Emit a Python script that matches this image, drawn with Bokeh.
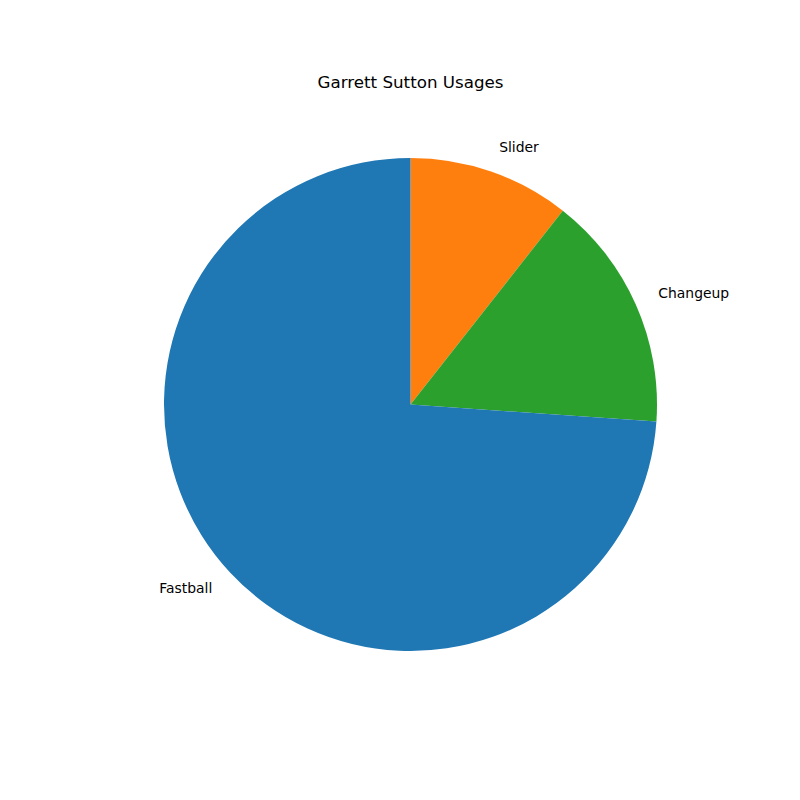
import numpy as np
from bokeh.plotting import figure
from bokeh.models import Range1d, ColumnDataSource, Label
from bokeh.embed import file_html
from bokeh.resources import INLINE
from bokeh.core.properties import value

# Data (clockwise from 12 o'clock)
pitches = ["Slider", "Changeup", "Fastball"]
usage = [10.6, 15.5, 73.9]
colors = ["#ff7f0e", "#2ca02c", "#1f77b4"]
title_text = "Garrett Sutton Usages"

R = 246.5
vals = np.array(usage, dtype=float)
frac = vals / vals.sum()
cum = np.concatenate([[0.0], np.cumsum(frac)])
start = np.pi / 2 - cum[1:] * 2 * np.pi
end = np.pi / 2 - cum[:-1] * 2 * np.pi
mid = (start + end) / 2

src = ColumnDataSource(dict(pitch=pitches, start=start, end=end, color=colors))

p = figure(width=784, height=784, output_backend="svg", toolbar_location=None,
           x_range=Range1d(-410, 374), y_range=Range1d(-380, 404),
           min_border=0, min_border_left=0, min_border_right=0,
           min_border_top=0, min_border_bottom=0)
p.axis.visible = False
p.grid.visible = False
p.outline_line_color = None
p.background_fill_color = "white"
p.border_fill_color = "white"

p.wedge(x=0, y=0, radius=R, start_angle="start", end_angle="end",
        fill_color="color", line_color=None, source=src)

lx = 1.1 * R * np.cos(mid)
ly = 1.1 * R * np.sin(mid)
align = ["left" if c > 0 else "right" for c in np.cos(mid)]
lsrc = ColumnDataSource(dict(x=lx, y=ly, t=pitches, a=align))
p.text(x="x", y="y", text="t", text_align="a", text_baseline="middle",
       y_offset=-1,
       text_font=value("DejaVu Sans"), text_font_size="13.9px",
       text_color="black", source=lsrc)

p.add_layout(Label(x=0, y=323, text=title_text, text_align="center",
                   text_baseline="middle", text_font="DejaVu Sans",
                   text_font_size="16.7px", text_color="black"))

open("out.html", "w").write(file_html(p, INLINE))
